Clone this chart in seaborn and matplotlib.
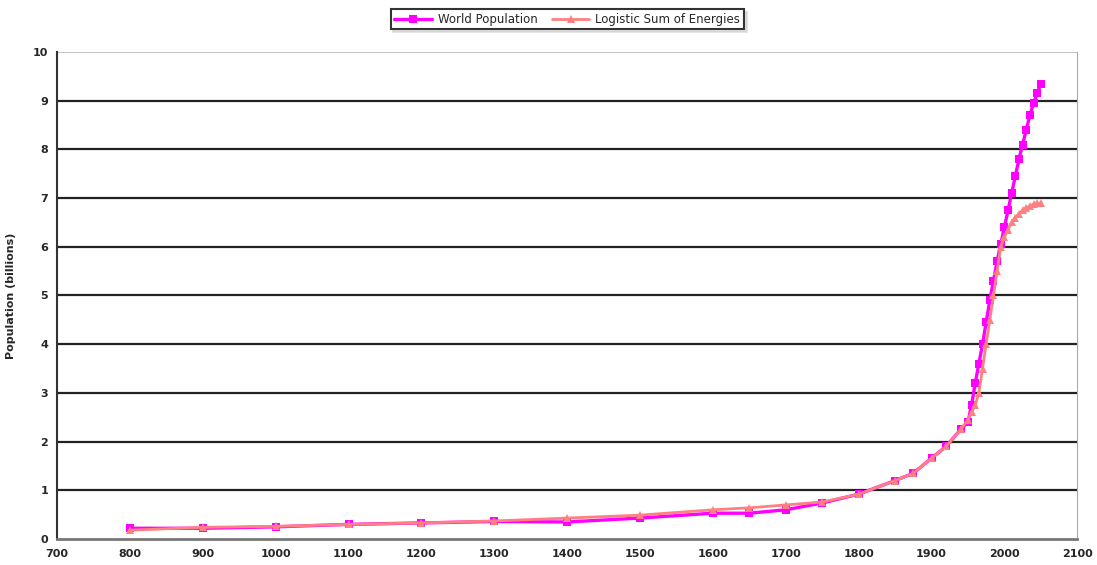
import matplotlib
matplotlib.use("Agg")
import matplotlib.pyplot as plt
import pandas as pd
import seaborn as sns

# years and values (billions)
years = [800, 900, 1000, 1100, 1200, 1300, 1400, 1500, 1600, 1650, 1700, 1750, 1800,
         1850, 1875, 1900, 1920, 1940, 1950, 1955, 1960, 1965, 1970, 1975, 1980, 1985,
         1990, 1995, 2000, 2005, 2010, 2015, 2020, 2025, 2030, 2035, 2040, 2045, 2050]
world_pop = [0.22, 0.22, 0.25, 0.30, 0.33, 0.36, 0.35, 0.43, 0.53, 0.53, 0.60, 0.74, 0.92,
             1.20, 1.35, 1.66, 1.90, 2.25, 2.40, 2.75, 3.20, 3.60, 4.00, 4.45, 4.90, 5.30,
             5.70, 6.05, 6.40, 6.75, 7.10, 7.45, 7.80, 8.10, 8.40, 8.70, 8.95, 9.15, 9.35]
logistic = [0.18, 0.24, 0.26, 0.30, 0.33, 0.37, 0.43, 0.49, 0.60, 0.64, 0.70, 0.76, 0.92,
            1.20, 1.35, 1.66, 1.90, 2.25, 2.45, 2.60, 2.75, 3.00, 3.50, 4.00, 4.50, 5.00,
            5.50, 6.00, 6.20, 6.35, 6.50, 6.60, 6.68, 6.75, 6.80, 6.84, 6.87, 6.89, 6.90]
series_names = ["World Population", "Logistic Sum of Energies"]
x_ticks = list(range(700, 2101, 100))
y_ticks = list(range(0, 11))

df = pd.DataFrame({
    'year': years * 2,
    'pop': world_pop + logistic,
    'series': [series_names[0]] * len(years) + [series_names[1]] * len(years),
})

sns.set_style("white")
plt.rcParams['font.family'] = ['DejaVu Sans']

fig = plt.figure(figsize=(10.97, 5.65), dpi=100)
ax = fig.add_axes([0.052, 0.046, 0.930, 0.862])

# horizontal gridlines like the Excel chart
for v in y_ticks[1:-1]:
    ax.axhline(v, color='#222222', lw=1.6, zorder=1)
ax.axhline(10, color='#bbbbbb', lw=1.2, zorder=1)

sns.lineplot(data=df, x='year', y='pop', hue='series', style='series',
             markers=['s', '^'], dashes=False,
             palette={series_names[0]: '#ff00ff', series_names[1]: '#ff8080'},
             markersize=6, markeredgewidth=0, ax=ax, zorder=3)
for ln in ax.get_lines():
    if ln.get_color() == '#ff00ff':
        ln.set_linewidth(2.4)
    elif ln.get_color() == '#ff8080':
        ln.set_linewidth(2.0)

ax.set_xlim(700, 2100)
ax.set_ylim(0, 10)
ax.set_xticks(x_ticks)
ax.set_yticks(y_ticks)
ax.tick_params(axis='both', labelsize=8, length=3, direction='out', color='#555555')
ax.tick_params(axis='x', pad=4)
for lab in ax.get_xticklabels() + ax.get_yticklabels():
    lab.set_fontweight('bold')
ax.set_xlabel('')
ax.set_ylabel('Population (billions)', fontsize=8, fontweight='bold', labelpad=12)

ax.spines['left'].set_color('#333333')
ax.spines['left'].set_linewidth(1.5)
ax.spines['bottom'].set_color('#777777')
ax.spines['bottom'].set_linewidth(2)
ax.spines['right'].set_color('#aaaaaa')
ax.spines['top'].set_visible(False)

leg = ax.legend(loc='center', bbox_to_anchor=(0.5, 1.067), ncol=2, fontsize=8.5,
                frameon=True, fancybox=False, edgecolor='#333333', handlelength=3.2,
                columnspacing=1.2, borderpad=0.3, handletextpad=0.5,
                shadow={'color': '#c8c8c8'})
leg.get_frame().set_linewidth(1.5)

fig.savefig('out.png', dpi=100)
